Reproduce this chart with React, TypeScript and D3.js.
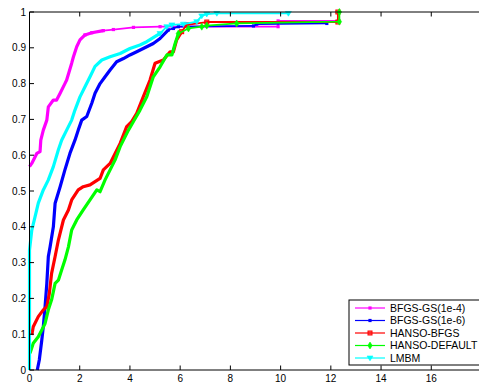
import React from 'react';
import * as d3 from 'd3';

// performance profile curves
const seriesNames = ['BFGS-GS(1e-4)', 'BFGS-GS(1e-6)', 'HANSO-BFGS', 'HANSO-DEFAULT', 'LMBM'];
const seriesColors = ['#ff00ff', '#0000ff', '#ff0000', '#00ff00', '#00ffff'];
const seriesMarkers = ['dot', 'dot', 'square', 'diamond', 'triangle'];

const gs4X = [0, 0.09, 0.29, 0.42, 0.45, 0.55, 0.69, 0.75, 0.95, 1.08, 1.22, 1.41, 1.48, 1.68, 1.75, 1.88, 2.01, 2.21, 2.48, 2.94, 3.34, 4.14, 5.2, 9.9, 9.9, 12.3];
const gs4Y = [0.568, 0.577, 0.605, 0.61, 0.642, 0.67, 0.698, 0.735, 0.754, 0.754, 0.773, 0.8, 0.81, 0.857, 0.875, 0.903, 0.922, 0.936, 0.942, 0.948, 0.951, 0.957, 0.959, 0.959, 0.975, 0.975];

const gs6X = [0.31, 0.39, 0.49, 0.55, 0.62, 0.69, 0.75, 0.82, 0.95, 1.02, 1.22, 1.41, 1.61, 1.81, 1.94, 2.08, 2.28, 2.48, 2.61, 2.81, 3.01, 3.21, 3.47, 3.74, 4.0, 4.27, 4.53, 4.93, 5.2, 5.53, 5.73, 5.93, 8.92, 9.05, 11.84];
const gs6Y = [0, 0.028, 0.084, 0.121, 0.177, 0.242, 0.317, 0.344, 0.4, 0.466, 0.512, 0.559, 0.605, 0.642, 0.67, 0.698, 0.708, 0.745, 0.773, 0.8, 0.819, 0.838, 0.861, 0.87, 0.88, 0.889, 0.898, 0.912, 0.926, 0.95, 0.954, 0.959, 0.961, 0.966, 0.968];

const hbX = [0.09, 0.15, 0.35, 0.55, 0.69, 0.79, 0.88, 1.02, 1.15, 1.35, 1.55, 1.68, 1.94, 2.14, 2.41, 2.61, 2.81, 2.94, 3.21, 3.41, 3.61, 3.87, 4.07, 4.27, 4.53, 4.8, 5.0, 5.33, 5.6, 5.73, 5.86, 6.06, 6.26, 7.06, 12.28, 12.28];
const hbY = [0.098, 0.121, 0.149, 0.168, 0.177, 0.214, 0.27, 0.317, 0.363, 0.419, 0.447, 0.475, 0.503, 0.512, 0.517, 0.526, 0.535, 0.559, 0.577, 0.605, 0.633, 0.68, 0.694, 0.717, 0.763, 0.81, 0.857, 0.866, 0.889, 0.889, 0.922, 0.945, 0.964, 0.972, 0.972, 1];

const hdX = [0.02, 0.15, 0.35, 0.49, 0.62, 0.75, 0.88, 1.02, 1.15, 1.28, 1.41, 1.55, 1.68, 1.88, 2.14, 2.41, 2.68, 2.81, 3.01, 3.21, 3.41, 3.61, 3.94, 4.14, 4.4, 4.67, 4.93, 5.2, 5.47, 5.67, 5.8, 5.93, 6.33, 6.86, 7.06, 8.25, 12.34, 12.34];
const hdY = [0.047, 0.075, 0.093, 0.112, 0.13, 0.168, 0.196, 0.242, 0.251, 0.279, 0.307, 0.344, 0.391, 0.419, 0.447, 0.475, 0.503, 0.498, 0.531, 0.559, 0.587, 0.624, 0.67, 0.694, 0.726, 0.763, 0.819, 0.847, 0.88, 0.88, 0.912, 0.94, 0.954, 0.959, 0.962, 0.968, 0.973, 1];

const lmX = [0, 0, 0.09, 0.22, 0.35, 0.55, 0.75, 0.95, 1.15, 1.28, 1.48, 1.68, 1.81, 2.01, 2.21, 2.41, 2.61, 2.88, 3.21, 3.61, 4.0, 4.4, 4.67, 5.2, 5.47, 5.67, 6.13, 6.66, 6.86, 7.06, 7.46, 10.31];
const lmY = [0, 0.335, 0.39, 0.428, 0.466, 0.503, 0.531, 0.568, 0.615, 0.642, 0.67, 0.698, 0.726, 0.763, 0.791, 0.819, 0.848, 0.866, 0.875, 0.884, 0.898, 0.908, 0.917, 0.94, 0.959, 0.964, 0.966, 0.973, 0.989, 0.994, 0.996, 0.996];

const xTicks = [0, 2, 4, 6, 8, 10, 12, 14, 16];
const yTicks = [0, 0.1, 0.2, 0.3, 0.4, 0.5, 0.6, 0.7, 0.8, 0.9, 1];

const width = 479;
const height = 383;
const margin = { left: 29.5, top: 12, right: -2.5, bottom: 13 };
const font = 'Helvetica, Arial, "Liberation Sans", sans-serif';

type Pt = { x: number; y: number };

function Marker({ kind, x, y, color }: { kind: string; x: number; y: number; color: string }) {
  if (kind === 'square') {
    return <rect x={x - 2} y={y - 2} width={4} height={4} fill={color} fillOpacity={0.6} stroke={color} strokeWidth={1} />;
  }
  if (kind === 'diamond') {
    return <path d={`M${x},${y - 3.5}L${x + 2.2},${y}L${x},${y + 3.5}L${x - 2.2},${y}Z`} fill={color} stroke={color} strokeWidth={0.6} />;
  }
  if (kind === 'triangle') {
    return <path d={`M${x - 3},${y - 2}L${x + 3},${y - 2}L${x},${y + 2.8}Z`} fill={color} stroke={color} strokeWidth={0.6} />;
  }
  return <rect x={x - 1.6} y={y - 1.6} width={3.2} height={3.2} fill={color} />;
}

export default function App() {
  const xScale = d3.scaleLinear().domain([0, 18]).range([margin.left, width - margin.right]);
  const yScale = d3.scaleLinear().domain([0, 1]).range([height - margin.bottom, margin.top]);

  const allX = [gs4X, gs6X, hbX, hdX, lmX];
  const allY = [gs4Y, gs6Y, hbY, hdY, lmY];
  const series: Pt[][] = allX.map((xs, i) => xs.map((x, j) => ({ x, y: allY[i][j] })));

  const line = d3.line<Pt>()
    .x((d) => xScale(d.x))
    .y((d) => yScale(d.y));

  const x0 = xScale(0);
  const xEnd = xScale(18);
  const yTop = yScale(1);
  const yBot = yScale(0);

  // legend box
  const legX = 349;
  const legY = 300;
  const legRow = 12.5;

  return (
    <svg width={width} height={height} style={{ position: 'absolute', left: 0, top: 0, background: '#fff' }}>
      <rect x={0} y={0} width={width} height={height} fill="#fff" />

      {/* curves: thick where dense, thin on the flat tail */}
      {series.map((pts, i) => {
        const steep = pts.filter((p) => p.y <= 0.95);
        const tail = pts.filter((p, j) => p.y >= 0.94 || (j < pts.length - 1 && pts[j + 1].y > 0.95));
        return (
          <g key={seriesNames[i]}>
            <path d={line(tail) || ''} fill="none" stroke={seriesColors[i]} strokeWidth={1.8} strokeLinejoin="round" />
            <path d={line(steep) || ''} fill="none" stroke={seriesColors[i]} strokeWidth={3.2} strokeLinejoin="round" />
            {pts.filter((p) => p.y > 0.93).map((p, j) => (
              <Marker key={j} kind={seriesMarkers[i]} x={xScale(p.x)} y={yScale(p.y)} color={seriesColors[i]} />
            ))}
          </g>
        );
      })}

      {/* axes box */}
      <g stroke="#000" strokeWidth={1} fill="none">
        <line x1={x0} x2={x0} y1={yTop} y2={yBot} />
        <line x1={x0} x2={xEnd} y1={yTop} y2={yTop} />
        <line x1={x0} x2={xEnd} y1={yBot} y2={yBot} />
        <line x1={xEnd} x2={xEnd} y1={yTop} y2={yBot} />
      </g>

      {/* ticks */}
      <g stroke="#000" strokeWidth={1}>
        {xTicks.map((t) => (
          <g key={'xt' + t}>
            <line x1={xScale(t)} x2={xScale(t)} y1={yBot} y2={yBot - 4.5} />
            <line x1={xScale(t)} x2={xScale(t)} y1={yTop} y2={yTop + 4.5} />
          </g>
        ))}
        {yTicks.map((t) => (
          <line key={'yt' + t} x1={x0} x2={x0 + 4.5} y1={yScale(t)} y2={yScale(t)} />
        ))}
      </g>

      <g fontFamily={font} fontSize={10} fill="#000">
        {xTicks.map((t) => (
          <text key={'xl' + t} x={xScale(t)} y={382} textAnchor="middle">{t}</text>
        ))}
        {yTicks.map((t) => (
          <text key={'yl' + t} x={26} y={yScale(t)} dy="0.35em" textAnchor="end">{t === 0 || t === 1 ? t : t.toFixed(1)}</text>
        ))}
      </g>

      {/* legend */}
      <g>
        <rect x={legX} y={legY} width={140} height={65} fill="#fff" stroke="#000" strokeWidth={1} />
        {seriesNames.map((name, i) => {
          const cy = legY + 8 + i * legRow;
          return (
            <g key={'leg' + name}>
              <line x1={355} x2={385} y1={cy} y2={cy} stroke={seriesColors[i]} strokeWidth={1.2} />
              <Marker kind={seriesMarkers[i]} x={370} y={cy} color={seriesColors[i]} />
              <text x={390} y={cy} dy="0.35em" fontFamily={font} fontSize={10.5} fill="#000">{name}</text>
            </g>
          );
        })}
      </g>
    </svg>
  );
}
